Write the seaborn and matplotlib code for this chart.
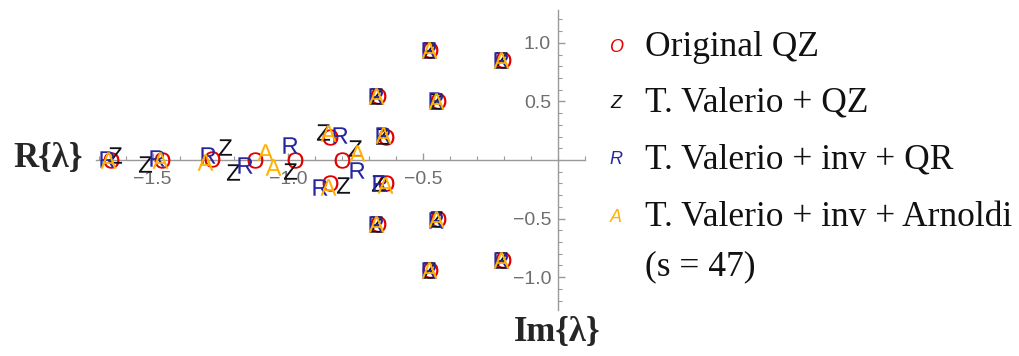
import matplotlib
matplotlib.use("Agg")
import matplotlib.pyplot as plt
import seaborn as sns
import numpy as np
from matplotlib.ticker import MultipleLocator, FixedLocator

# ---- data ----
series_names = ["Original QZ", "T. Valerio + QZ", "T. Valerio + inv + QR",
                "T. Valerio + inv + Arnoldi\n(s = 47)"]
series_letters = ["O", "Z", "R", "A"]

O_x = [-1.655, -1.467, -1.280, -1.122, -0.975, -0.800, -0.844, -0.844, -0.636, -0.636,
       -0.668, -0.668, -0.444, -0.444, -0.472, -0.472, -0.204, -0.204]
O_y = [0.000, 0.000, 0.010, 0.000, 0.000, 0.000, 0.200, -0.200, 0.200, -0.200,
       0.542, -0.542, 0.505, -0.505, 0.940, -0.940, 0.855, -0.855]

Z_x = [-1.640, -1.530, -1.233, -1.204, -0.993, -0.870, -0.752, -0.796, -0.652, -0.667,
       -0.674, -0.674, -0.452, -0.452, -0.478, -0.478, -0.210, -0.210]
Z_y = [0.045, -0.030, 0.110, -0.100, -0.090, 0.240, 0.100, -0.215, 0.205, -0.195,
       0.542, -0.542, 0.505, -0.505, 0.940, -0.940, 0.855, -0.855]

R_x = [-1.670, -1.485, -1.296, -1.159, -0.993, -0.807, -0.744, -0.881, -0.648, -0.660,
       -0.675, -0.675, -0.452, -0.452, -0.478, -0.478, -0.211, -0.211]
R_y = [0.010, 0.020, 0.040, -0.040, 0.130, 0.210, -0.085, -0.230, 0.210, -0.200,
       0.545, -0.545, 0.508, -0.508, 0.942, -0.942, 0.857, -0.857]

A_x = [-1.667, -1.474, -1.307, -1.085, -1.056, -0.852, -0.744, -0.852, -0.648, -0.640,
       -0.674, -0.674, -0.451, -0.451, -0.477, -0.477, -0.210, -0.210]
A_y = [0.000, 0.000, -0.020, 0.070, -0.060, 0.230, 0.060, -0.230, 0.210, -0.210,
       0.542, -0.542, 0.505, -0.505, 0.940, -0.940, 0.855, -0.855]

x_ticks = [-1.5, -1.0, -0.5]
y_ticks = [-1.0, -0.5, 0.5, 1.0]

colors = ["#e00000", "#101018", "#2626a0", "#ffb000"]

# ---- style ----
sns.set_style("white")
plt.rcParams["font.family"] = ["Liberation Sans", "DejaVu Sans"]
plt.rcParams["mathtext.fontset"] = "custom"
plt.rcParams["mathtext.sf"] = "Liberation Sans"
plt.rcParams["mathtext.rm"] = "Liberation Sans"

fig = plt.figure(figsize=(10.19, 3.56), dpi=100)
W, H = 1019, 356
ax = fig.add_axes([96 / W, (H - 310) / H, 489 / W, 300 / H])

xs = [O_x, Z_x, R_x, A_x]
ys = [O_y, Z_y, R_y, A_y]
for x, y, letter, c in zip(xs, ys, series_letters, colors):
    sns.scatterplot(x=x, y=y, ax=ax, marker=r"$\mathsf{%s}$" % letter, s=140,
                    color=c, linewidth=0, legend=False, zorder=3)

ax.set_xlim(-1.71, 0.1)
ax.set_ylim(-1.28, 1.28)

axis_gray = "#9a9a9a"
for side in ["top", "right"]:
    ax.spines[side].set_visible(False)
ax.spines["left"].set_position(("data", 0))
ax.spines["bottom"].set_position(("data", 0))
for side in ["left", "bottom"]:
    ax.spines[side].set_color(axis_gray)
    ax.spines[side].set_linewidth(1.0)

ax.xaxis.set_major_locator(FixedLocator(x_ticks))
ax.yaxis.set_major_locator(FixedLocator(y_ticks))
ax.xaxis.set_minor_locator(MultipleLocator(0.1))
ax.yaxis.set_minor_locator(MultipleLocator(0.1))
ax.tick_params(axis="both", which="both", bottom=True, left=True, top=False, right=False)
ax.tick_params(axis="both", which="major", direction="in", length=5, width=1,
               color=axis_gray, labelcolor="#6e6e6e", labelsize=14)
ax.tick_params(axis="both", which="minor", direction="in", length=3, width=0.8,
               color=axis_gray)
ax.tick_params(axis="x", which="major", pad=8)
ax.tick_params(axis="y", which="major", pad=5)
ax.xaxis.set_major_formatter(plt.FuncFormatter(lambda v, p: f"{v:.1f}".replace("-", "\u2212")))
ax.yaxis.set_major_formatter(plt.FuncFormatter(lambda v, p: f"{v:.1f}".replace("-", "\u2212")))
ax.set_xlabel("")
ax.set_ylabel("")
ax.grid(False)

serif = ["Liberation Serif", "DejaVu Serif"]
# axis labels
fig.text(48 / W, 1 - 158 / H, "R{λ}", ha="center", va="center", family=serif,
         fontweight="bold", fontsize=25)
fig.text(557 / W, 1 - 333 / H, "Im{λ}", ha="center", va="center", family=serif,
         fontweight="bold", fontsize=25)

# legend
rows = [47, 103, 160, 217]
for i, (name, letter, c) in enumerate(zip(series_names, series_letters, colors)):
    fig.text(616 / W, 1 - rows[i] / H, letter, ha="center", va="center",
             family=["Liberation Sans"], fontstyle="italic", fontsize=13, color=c)
    first = name.split("\n")[0]
    fig.text(645 / W, 1 - rows[i] / H, first, ha="left", va="center",
             family=serif, fontsize=25.5, color="#111111")
fig.text(645 / W, 1 - 267 / H, series_names[3].split("\n")[1], ha="left", va="center",
         family=serif, fontsize=25.5, color="#111111")

fig.savefig("out.png", dpi=100)
